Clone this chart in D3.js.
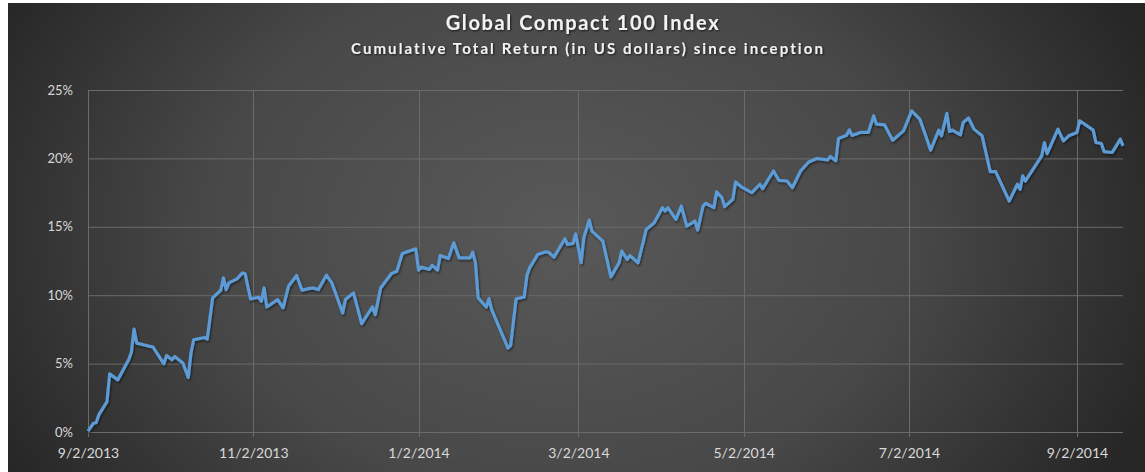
<!DOCTYPE html>
<html>
<head>
<meta charset="utf-8">
<script src="https://cdn.jsdelivr.net/npm/d3@7"></script>
<style>
  html, body { margin: 0; padding: 0; background: #fff; }
  #chart { width: 1145px; height: 472px; }
  text { font-family: Lato, "Open Sans", sans-serif; }
</style>
</head>
<body>
<div id="chart"></div>
<script>
// ---- data ----
const titleText = 'Global Compact 100 Index';
const subtitleText = 'Cumulative Total Return (in US dollars) since inception';

const dates = [
  '2013-09-02','2013-09-04','2013-09-05','2013-09-06','2013-09-09','2013-09-10','2013-09-13','2013-09-17',
  '2013-09-18','2013-09-19','2013-09-20','2013-09-24','2013-09-26','2013-09-30','2013-10-01','2013-10-03',
  '2013-10-04','2013-10-07','2013-10-09','2013-10-10','2013-10-11','2013-10-15','2013-10-16','2013-10-18',
  '2013-10-21','2013-10-22','2013-10-23','2013-10-24','2013-10-27','2013-10-29','2013-10-30','2013-11-01',
  '2013-11-04','2013-11-05','2013-11-06','2013-11-07','2013-11-11','2013-11-13','2013-11-15','2013-11-18',
  '2013-11-20','2013-11-22','2013-11-24','2013-11-26','2013-11-29','2013-12-01','2013-12-05','2013-12-06',
  '2013-12-09','2013-12-12','2013-12-16','2013-12-17','2013-12-19','2013-12-23','2013-12-25','2013-12-27',
  '2014-01-01','2014-01-02','2014-01-03','2014-01-06','2014-01-07','2014-01-09','2014-01-10','2014-01-13',
  '2014-01-15','2014-01-17','2014-01-21','2014-01-22','2014-01-23','2014-01-24','2014-01-27','2014-01-28',
  '2014-01-29','2014-02-04','2014-02-05','2014-02-07','2014-02-10','2014-02-11','2014-02-12','2014-02-15',
  '2014-02-18','2014-02-19','2014-02-21','2014-02-25','2014-02-26','2014-02-28','2014-03-01','2014-03-03',
  '2014-03-04','2014-03-06','2014-03-07','2014-03-11','2014-03-14','2014-03-17','2014-03-18','2014-03-20',
  '2014-03-21','2014-03-24','2014-03-26','2014-03-27','2014-03-30','2014-04-02','2014-04-03','2014-04-04',
  '2014-04-07','2014-04-09','2014-04-11','2014-04-14','2014-04-15','2014-04-17','2014-04-18','2014-04-21',
  '2014-04-22','2014-04-24','2014-04-25','2014-04-28','2014-04-29','2014-05-01','2014-05-05','2014-05-08',
  '2014-05-09','2014-05-13','2014-05-15','2014-05-18','2014-05-20','2014-05-23','2014-05-26','2014-05-29',
  '2014-06-02','2014-06-03','2014-06-05','2014-06-06','2014-06-09','2014-06-10','2014-06-11','2014-06-14',
  '2014-06-17','2014-06-19','2014-06-20','2014-06-23','2014-06-26','2014-06-30','2014-07-03','2014-07-06',
  '2014-07-08','2014-07-10','2014-07-13','2014-07-14','2014-07-16','2014-07-17','2014-07-18','2014-07-21',
  '2014-07-22','2014-07-24','2014-07-26','2014-07-29','2014-08-01','2014-08-03','2014-08-08','2014-08-11',
  '2014-08-12','2014-08-13','2014-08-14','2014-08-20','2014-08-21','2014-08-22','2014-08-26','2014-08-28',
  '2014-08-30','2014-09-02','2014-09-03','2014-09-08','2014-09-09','2014-09-11','2014-09-12','2014-09-15',
  '2014-09-16','2014-09-18','2014-09-19'
];

// cumulative total return, %
const returns = [
  0.07, 0.64, 0.68, 1.25, 2.22, 4.25, 3.81, 5.28,
  5.81, 7.53, 6.50, 6.30, 6.21, 4.98, 5.59, 5.28,
  5.52, 5.04, 3.98, 5.77, 6.74, 6.91, 6.79, 9.80,
  10.36, 11.27, 10.41, 10.90, 11.19, 11.63, 11.56, 9.73,
  9.85, 9.55, 10.53, 9.14, 9.68, 9.07, 10.65, 11.44,
  10.36, 10.46, 10.53, 10.41, 11.46, 10.90, 8.70, 9.68,
  10.17, 7.92, 9.14, 8.58, 10.53, 11.58, 11.75, 13.05,
  13.39, 11.83, 12.05, 11.88, 12.19, 11.83, 12.90, 12.68,
  13.83, 12.73, 12.73, 13.14, 12.37, 9.80, 9.14, 9.75,
  8.94, 6.13, 6.33, 9.73, 9.87, 11.44, 12.00, 12.98,
  13.17, 13.14, 12.78, 14.13, 13.71, 13.78, 14.49, 12.37,
  14.20, 15.49, 14.68, 13.95, 11.34, 12.37, 13.22, 12.61,
  12.90, 12.37, 13.95, 14.81, 15.30, 16.40, 16.15, 16.40,
  15.54, 16.52, 15.05, 15.42, 14.76, 16.52, 16.72, 16.40,
  17.55, 17.13, 16.47, 17.01, 18.28, 17.94, 17.50, 18.11,
  17.79, 19.08, 18.40, 18.35, 17.86, 19.08, 19.74, 19.99,
  19.89, 20.14, 19.82, 21.46, 21.70, 22.09, 21.68, 21.90,
  21.90, 23.12, 22.51, 22.45, 21.33, 22.01, 23.48, 22.87,
  21.77, 20.60, 22.07, 21.65, 23.29, 21.97, 22.07, 21.72,
  22.62, 22.95, 22.14, 21.65, 19.03, 19.03, 16.88, 18.11,
  17.74, 18.72, 18.35, 20.18, 21.16, 20.35, 22.14, 21.28,
  21.65, 21.90, 22.75, 22.07, 21.16, 21.09, 20.50, 20.43,
  20.75, 21.41, 20.92
];

const xTickDates = ['2013-09-02','2013-11-02','2014-01-02','2014-03-02','2014-05-02','2014-07-02','2014-09-02'];
const xDomain = ['2013-09-02', '2014-09-19'];
const yTicks = [0, 5, 10, 15, 20, 25];

// ---- drawing ----
const container = document.getElementById('chart');
const dimensions = {
    width: 1145,
    height: 472,
    margin: { top: 90, right: 22, bottom: 40, left: 88 }
};
dimensions.boundWidth = dimensions.width - dimensions.margin.left - dimensions.margin.right;
dimensions.boundHeight = dimensions.height - dimensions.margin.top - dimensions.margin.bottom;

const parseDate = d3.utcParse('%Y-%m-%d');
const tickFormat = d => `${d.getUTCMonth() + 1}/${d.getUTCDate()}/${d.getUTCFullYear()}`;

const series = dates.map((d, i) => ({ date: parseDate(d), value: returns[i] }));

const root = d3.select(container)
    .append('svg')
    .attr('width', dimensions.width)
    .attr('height', dimensions.height);

const defs = root.append('defs');
const bg = defs.append('radialGradient')
    .attr('id', 'bg')
    .attr('gradientUnits', 'userSpaceOnUse')
    .attr('cx', 560).attr('cy', 230).attr('r', 640)
    .attr('gradientTransform', 'translate(560,230) scale(1,0.75) translate(-560,-230)');
bg.append('stop').attr('offset', '0%').attr('stop-color', '#595959');
bg.append('stop').attr('offset', '55%').attr('stop-color', '#484848');
bg.append('stop').attr('offset', '100%').attr('stop-color', '#262626');

const shadow = defs.append('filter').attr('id', 'shadow')
    .attr('x', '-5%').attr('y', '-5%').attr('width', '110%').attr('height', '120%');
shadow.append('feDropShadow')
    .attr('dx', 1).attr('dy', 1.5).attr('stdDeviation', 1.2)
    .attr('flood-color', '#000').attr('flood-opacity', 0.55);

const textShadow = defs.append('filter').attr('id', 'tshadow');
textShadow.append('feDropShadow')
    .attr('dx', 1).attr('dy', 1).attr('stdDeviation', 0.8)
    .attr('flood-color', '#000').attr('flood-opacity', 0.7);

// white page edge as in the screenshot, then the chart area
root.append('rect').attr('width', dimensions.width).attr('height', dimensions.height).attr('fill', '#fff');
root.append('rect')
    .attr('x', 8).attr('y', 3)
    .attr('width', dimensions.width - 8).attr('height', dimensions.height - 3)
    .attr('fill', 'url(#bg)');

const svg = root.append('g')
    .attr('transform', `translate(${dimensions.margin.left},${dimensions.margin.top})`);

const xScale = d3.scaleUtc()
    .domain(xDomain.map(parseDate))
    .range([0, dimensions.boundWidth]);

const yScale = d3.scaleLinear()
    .domain([0, 25])
    .range([dimensions.boundHeight, 0]);

// gridlines
const gridColor = '#6b6b6b';
svg.append('g')
    .selectAll('line')
    .data(yTicks)
    .join('line')
    .attr('x1', 0)
    .attr('x2', dimensions.boundWidth)
    .attr('y1', d => yScale(d) + 0.5)
    .attr('y2', d => yScale(d) + 0.5)
    .attr('stroke', gridColor)
    .attr('stroke-width', 1);

svg.append('g')
    .selectAll('line')
    .data(xTickDates.map(parseDate))
    .join('line')
    .attr('x1', d => Math.round(xScale(d)) + 0.5)
    .attr('x2', d => Math.round(xScale(d)) + 0.5)
    .attr('y1', 0)
    .attr('y2', dimensions.boundHeight + 5)
    .attr('stroke', gridColor)
    .attr('stroke-width', 1);

// axes (labels only)
const yAxis = d3.axisLeft(yScale)
    .tickValues(yTicks)
    .tickFormat(d => `${d}%`)
    .tickSize(0)
    .tickPadding(15);
svg.append('g')
    .call(yAxis)
    .call(g => g.select('.domain').remove())
    .selectAll('text')
    .attr('fill', '#d9d9d9')
    .style('font-size', '13px');

const xAxis = d3.axisBottom(xScale)
    .tickValues(xTickDates.map(parseDate))
    .tickFormat(tickFormat)
    .tickSize(0)
    .tickPadding(16);
svg.append('g')
    .attr('transform', `translate(0,${dimensions.boundHeight})`)
    .call(xAxis)
    .call(g => g.select('.domain').remove())
    .selectAll('text')
    .attr('fill', '#d9d9d9')
    .style('font-size', '14px');

// line
const line = d3.line()
    .x(d => xScale(d.date))
    .y(d => yScale(d.value));

svg.append('path')
    .datum(series)
    .attr('d', line)
    .attr('fill', 'none')
    .attr('stroke', '#5b9bd5')
    .attr('stroke-width', 3.2)
    .attr('stroke-linejoin', 'round')
    .attr('filter', 'url(#shadow)');

// titles
root.append('text')
    .attr('x', 583)
    .attr('y', 30)
    .attr('text-anchor', 'middle')
    .attr('fill', '#f2f2f2')
    .attr('filter', 'url(#tshadow)')
    .style('font-size', '20px')
    .style('font-weight', 'bold')
    .style('letter-spacing', '1.6px')
    .text(titleText);

root.append('text')
    .attr('x', 588)
    .attr('y', 54)
    .attr('text-anchor', 'middle')
    .attr('fill', '#f2f2f2')
    .attr('filter', 'url(#tshadow)')
    .style('font-size', '15px')
    .style('font-weight', 'bold')
    .style('letter-spacing', '2.1px')
    .text(subtitleText);
</script>
</body>
</html>
